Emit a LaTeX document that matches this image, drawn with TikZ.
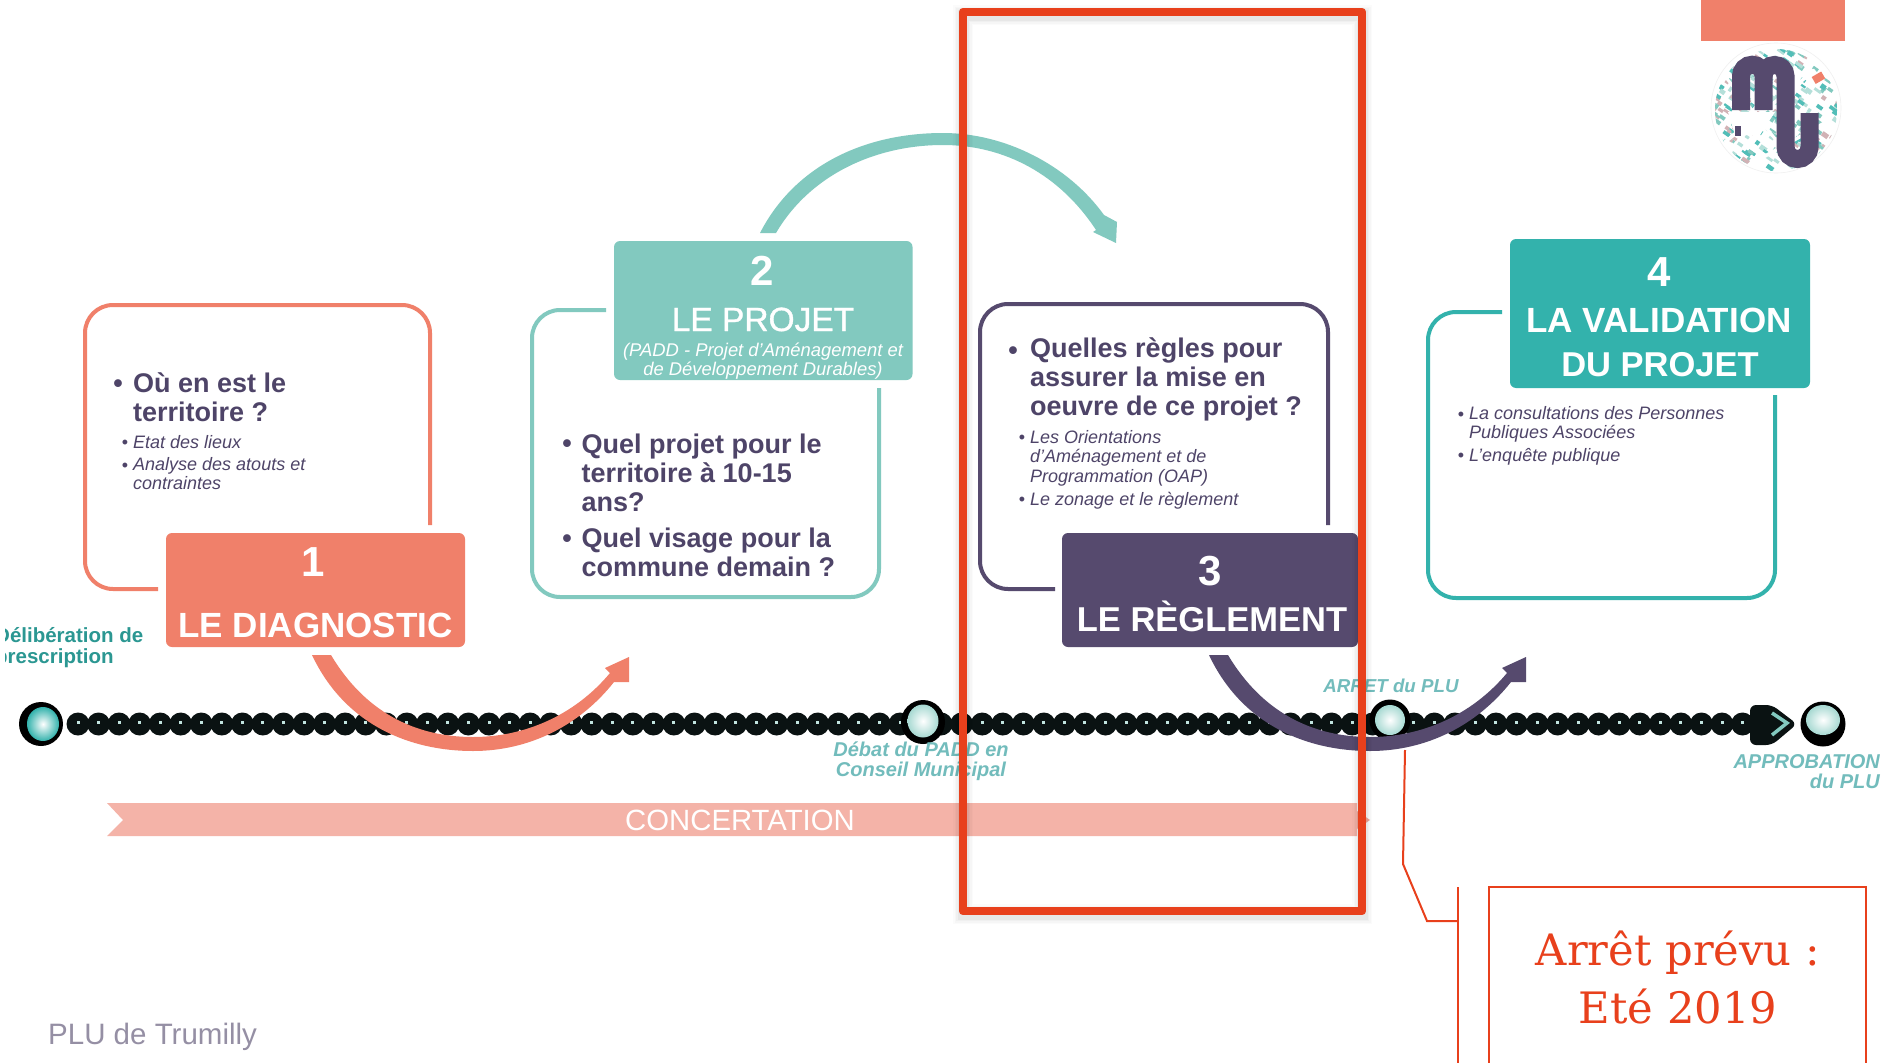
\documentclass[tikz,border=0pt]{standalone}
\usepackage{fontspec}
\setmainfont{Liberation Sans}
\newfontfamily\slabfont{DejaVu Serif}
\newfontfamily\semibfont[FakeBold=1]{Liberation Sans}
\usetikzlibrary{calc,shapes.geometric}
\definecolor{salmon}{HTML}{F0806A}
\definecolor{tealA}{HTML}{82C9BF}
\definecolor{tealB}{HTML}{33B2AC}
\definecolor{plum}{HTML}{564A6E}
\definecolor{ink}{HTML}{4E4468}
\definecolor{redline}{HTML}{E8401C}
\definecolor{concert}{HTML}{F4B3A8}
\definecolor{labelteal}{HTML}{72BCBC}
\definecolor{beadblack}{HTML}{0A1212}
\newcommand{\fs}[2]{\fontsize{#1}{#2}\selectfont}
\tikzset{
  txt/.style={anchor=base west,inner sep=0pt,align=left,text=ink},
  bighead/.style={txt,font=\bfseries\fs{27}{29}},
  smallit/.style={txt,font=\itshape\fs{18}{18.5}},
  bulletbig/.style={anchor=base,inner sep=0pt,text=ink,font=\bfseries\fs{27}{29}},
  bulletsmall/.style={anchor=base,inner sep=0pt,text=ink,font=\fs{18}{18}},
  cardline/.style={line width=4pt,line cap=butt,rounded corners=28pt},
  headbox/.style={rounded corners=6pt},
  boxtxt/.style={anchor=base,inner sep=0pt,text=white,font=\bfseries\fs{34.5}{36}},
  boxnum/.style={anchor=base,inner sep=0pt,text=white,font=\bfseries\fs{42}{44}},
  milestone/.style={anchor=base,inner sep=0pt,align=center,text=labelteal,font=\bfseries\itshape\fs{20}{20}},
}
\newcommand{\swoosh}[2]{% x shift, colour
  \fill[#2,shift={(#1,0)}] (312,655) .. controls (345,725) and (410,751) .. (473,751)
     .. controls (530,751) and (580,725) .. (614,682) -- (629,682) -- (629,657) -- (605,668) -- (610,673)
     .. controls (575,715) and (525,737) .. (473,737)
     .. controls (415,737) and (365,712) .. (331,655) -- cycle;
}
% name, outer x, outer y, outer r, inner x, inner y, inner rx, inner ry, colour
\newcommand{\pearl}[9]{%
  \node[circle,fill=black,minimum size=#4*2pt,inner sep=0pt] (#1) at (#2,#3) {};
  \shade[inner color=white,outer color=#9] (#5,#6) ellipse ({#7} and {#8});
}
\begin{document}
\begin{tikzpicture}[x=1pt,y=-1pt]
\useasboundingbox (0,0) rectangle (1883,1063);
\clip (0,0) rectangle (1883,1063);
\fill[white] (0,0) rectangle (1883,1063);

% top-right tab and logo
\fill[salmon] (1701,0) rectangle (1845,41);
\draw[black!6,line width=.6pt] (1776,108) circle (65);
\begin{scope}
  \clip (1776,110) circle (61);
  \pgfmathsetseed{11}
  \foreach \i in {1,...,320}{
    \pgfmathsetmacro\px{1776+64*rand}
    \pgfmathsetmacro\py{110+64*rand}
    \pgfmathsetmacro\pw{3+6*rnd}
    \pgfmathsetmacro\ph{2+3*rnd}
    \pgfmathtruncatemacro\pick{int(4*rnd)}
    \ifcase\pick\def\pc{tealA}\or\def\pc{tealB!85!white}\or\def\pc{tealA!60!white}\or\def\pc{salmon!50!plum!50!white}\else\def\pc{tealB}\fi
    \fill[fill=\pc,rotate around={-35:(\px,\py)}] (\px,\py) rectangle ++(\pw,\ph);
  }
  \draw[white,line width=3.5pt] (1715,150) -- (1815,70);
  \draw[white,line width=3.5pt] (1740,170) -- (1830,120);
  \draw[white,line width=3pt] (1720,70) -- (1800,170);
  \fill[white] (1728,112) -- (1775,112) -- (1760,135) -- (1735,135) -- cycle;
  \fill[salmon,rotate around={30:(1818,78)}] (1813,74) rectangle (1824,82);
  \fill[plum] (1735,126) rectangle (1741,136);
\end{scope}
\draw[plum,line width=18pt,line cap=butt] (1741,110) -- (1741,76) arc[start angle=180,end angle=360,radius=11.25] -- (1763.5,110);
\draw[plum,line width=18pt,line cap=butt] (1763.5,76) arc[start angle=180,end angle=360,radius=11] -- (1785.5,147) arc[start angle=180,end angle=0,radius=12] -- (1809.5,113);

% card 1
\draw[salmon,cardline] (158,589) -- (85,589) -- (85,305) -- (430,305) -- (430,525);
\fill[salmon,headbox] (166,533) rectangle (465,647);
\node[boxnum] (n1) at (313,576) {1};
\node[boxtxt,font=\bfseries\fs{35}{36}] (t1) at (315.5,637) {LE DIAGNOSTIC};
\node[bulletbig] (b11) at (118,392) {•};
\node[bighead] (h1) at (133,421) {Où en est le\\territoire ?};
\node[bulletsmall] (b12) at (125,448) {•};
\node[smallit] (s11) at (133,448) {Etat des lieux};
\node[bulletsmall] (b13) at (125,471) {•};
\node[smallit] (s12) at (133,489) {Analyse des atouts et\\contraintes};

% card 2
\draw[tealA,cardline] (606,310) -- (532,310) -- (532,597) -- (879,597) -- (879,388);
\fill[tealA,headbox] (614,241) rectangle (912.5,380);
\node[boxnum] (n2) at (762,285) {2};
\node[boxtxt,font=\semibfont\fs{33.5}{36}] (t2) at (763,331) {LE PROJET};
\node[anchor=base,inner sep=0pt,align=center,text=white,font=\itshape\fs{18.4}{19}] (sub2) at (763,375) {(PADD - Projet d’Aménagement et\\de Développement Durables)};
\node[bulletbig] (b21) at (567,452) {•};
\node[bighead] (h21) at (581.5,511) {Quel projet pour le\\territoire à 10-15\\ans?};
\node[bulletbig] (b22) at (567,547) {•};
\node[bighead] (h22) at (581.5,576) {Quel visage pour la\\commune demain ?};

% card 3
\draw[plum,cardline] (1055,589) -- (980,589) -- (980,304) -- (1328,304) -- (1328,525);
\fill[plum,headbox] (1062,533) rectangle (1358,647);
\node[boxnum] (n3) at (1210,585) {3};
\node[boxtxt] (t3) at (1212,631) {LE RÈGLEMENT};
\node[bulletbig] (b31) at (1013,359) {•};
\node[bighead] (h3) at (1030,415) {Quelles règles pour\\assurer la mise en\\oeuvre de ce projet ?};
\node[bulletsmall] (b32) at (1022,443) {•};
\node[smallit,font=\itshape\fs{18}{19.5}] (s31) at (1030,482) {Les Orientations\\d’Aménagement et de\\Programmation (OAP)};
\node[bulletsmall] (b33) at (1022,505) {•};
\node[smallit] (s32) at (1030,505) {Le zonage et le règlement};

% card 4
\draw[tealB,cardline] (1502,312) -- (1428,312) -- (1428,598) -- (1775,598) -- (1775,395);
\fill[tealB,headbox] (1510,239) rectangle (1810,388);
\node[boxnum] (n4) at (1659,286) {4};
\node[boxtxt,font=\bfseries\fs{35}{36}] (t41) at (1659,332) {LA VALIDATION};
\node[boxtxt] (t42) at (1660,376) {DU PROJET};
\node[bulletsmall] (b41) at (1461,420) {•};
\node[smallit] (s41) at (1469,438) {La consultations des Personnes\\Publiques Associées};
\node[bulletsmall] (b42) at (1461,461) {•};
\node[smallit] (s42) at (1469,461) {L’enquête publique};

% timeline beads
\fill[beadblack] (78,719) rectangle (1760,729);
\foreach \k in {0,...,81}{
  \fill[beadblack] ({78+20.55*\k},724) circle (11.5);
}
\foreach \k in {0,...,81}{
  \fill[tealA!50!white] ({76.5+20.55*\k},720.5) rectangle ++(3,3);
}
\fill[beadblack,rounded corners=6pt] (1750,705) -- (1772,705) -- (1797,724) -- (1772,745) -- (1750,745) -- cycle;
\draw[tealA,line width=3.5pt] (1772,713) -- (1787,723) -- (1772,735);
\pearl{p1}{41}{724}{22}{43}{724}{16}{17}{tealB}
\pearl{p2}{923}{722}{22}{923}{721}{15.5}{16.5}{tealA!70!white}
\pearl{p3}{1390}{720}{20.5}{1390}{720}{15}{15}{tealA!70!white}
\pearl{p4}{1823}{724}{22.5}{1823}{720}{17}{15}{tealA!70!white}

% arrows
\swoosh{0}{salmon}
\swoosh{897}{plum}
\fill[tealA] (760,233) .. controls (795,165) and (865,133) .. (943,133)
   .. controls (1005,133) and (1068,165) .. (1104,215) -- (1117,222) -- (1116,243) -- (1093,232) -- (1096,230)
   .. controls (1060,175) and (1005,145) .. (943,145)
   .. controls (875,145) and (810,175) .. (776,233) -- cycle;

% milestone labels
\begin{scope}
  \clip (5,600) rectangle (300,680);
  \node[anchor=base west,inner sep=0pt,align=left,text=tealB!85!black,font=\bfseries\fs{20.5}{21}] (lab1) at (-5,663) {Délibération de\\prescription};
\end{scope}
\node[milestone] (lab2) at (921,776) {Débat du PADD en\\Conseil Municipal};
\node[milestone,font=\bfseries\itshape\fs{18.7}{20}] (lab3) at (1391,692) {ARRET du PLU};
\node[milestone,anchor=base east,align=right] (lab4) at (1880,788) {APPROBATION\\du PLU};

% concertation band
\fill[concert] (107,803) -- (1357,803) -- (1357,836) -- (107,836) -- (123,820) -- cycle;
\fill[concert!80!salmon] (1357,811) -- (1370,820) -- (1357,829) -- cycle;
\node[anchor=base,inner sep=0pt,text=white,font=\fs{29.3}{30}] (conc) at (740,830) {CONCERTATION};

% red frame with soft shadow
\foreach \w/\o in {20/.015,17/.02,14/.025,11/.035}{
  \draw[black,opacity=\o,line width=\w pt] (963,15) rectangle (1362,914);
}
\draw[redline,line width=8.5pt,line join=round] (963,12) rectangle (1362,911);

% callout
\coordinate (calloutA) at (1405,750);
\coordinate (calloutB) at (1458,921);
\draw[redline,line width=2pt] (calloutA) -- (1403,864) -- (1427,921) -- (calloutB);
\draw[redline,line width=2.5pt] (1458,887) -- (1458,1070);
\draw[redline,line width=2.5pt] (1489,1070) -- (1489,887) -- (1866,887) -- (1866,1070);
\node[anchor=base,inner sep=0pt,align=center,text=redline,font=\slabfont\fs{43.3}{58}] (call) at (1678,1023) {Arrêt prévu :\\Eté 2019};

\node[anchor=base west,inner sep=0pt,text=ink!60!white,font=\fs{29.5}{32}] (foot) at (48,1044) {PLU de Trumilly};
\end{tikzpicture}
\end{document}
